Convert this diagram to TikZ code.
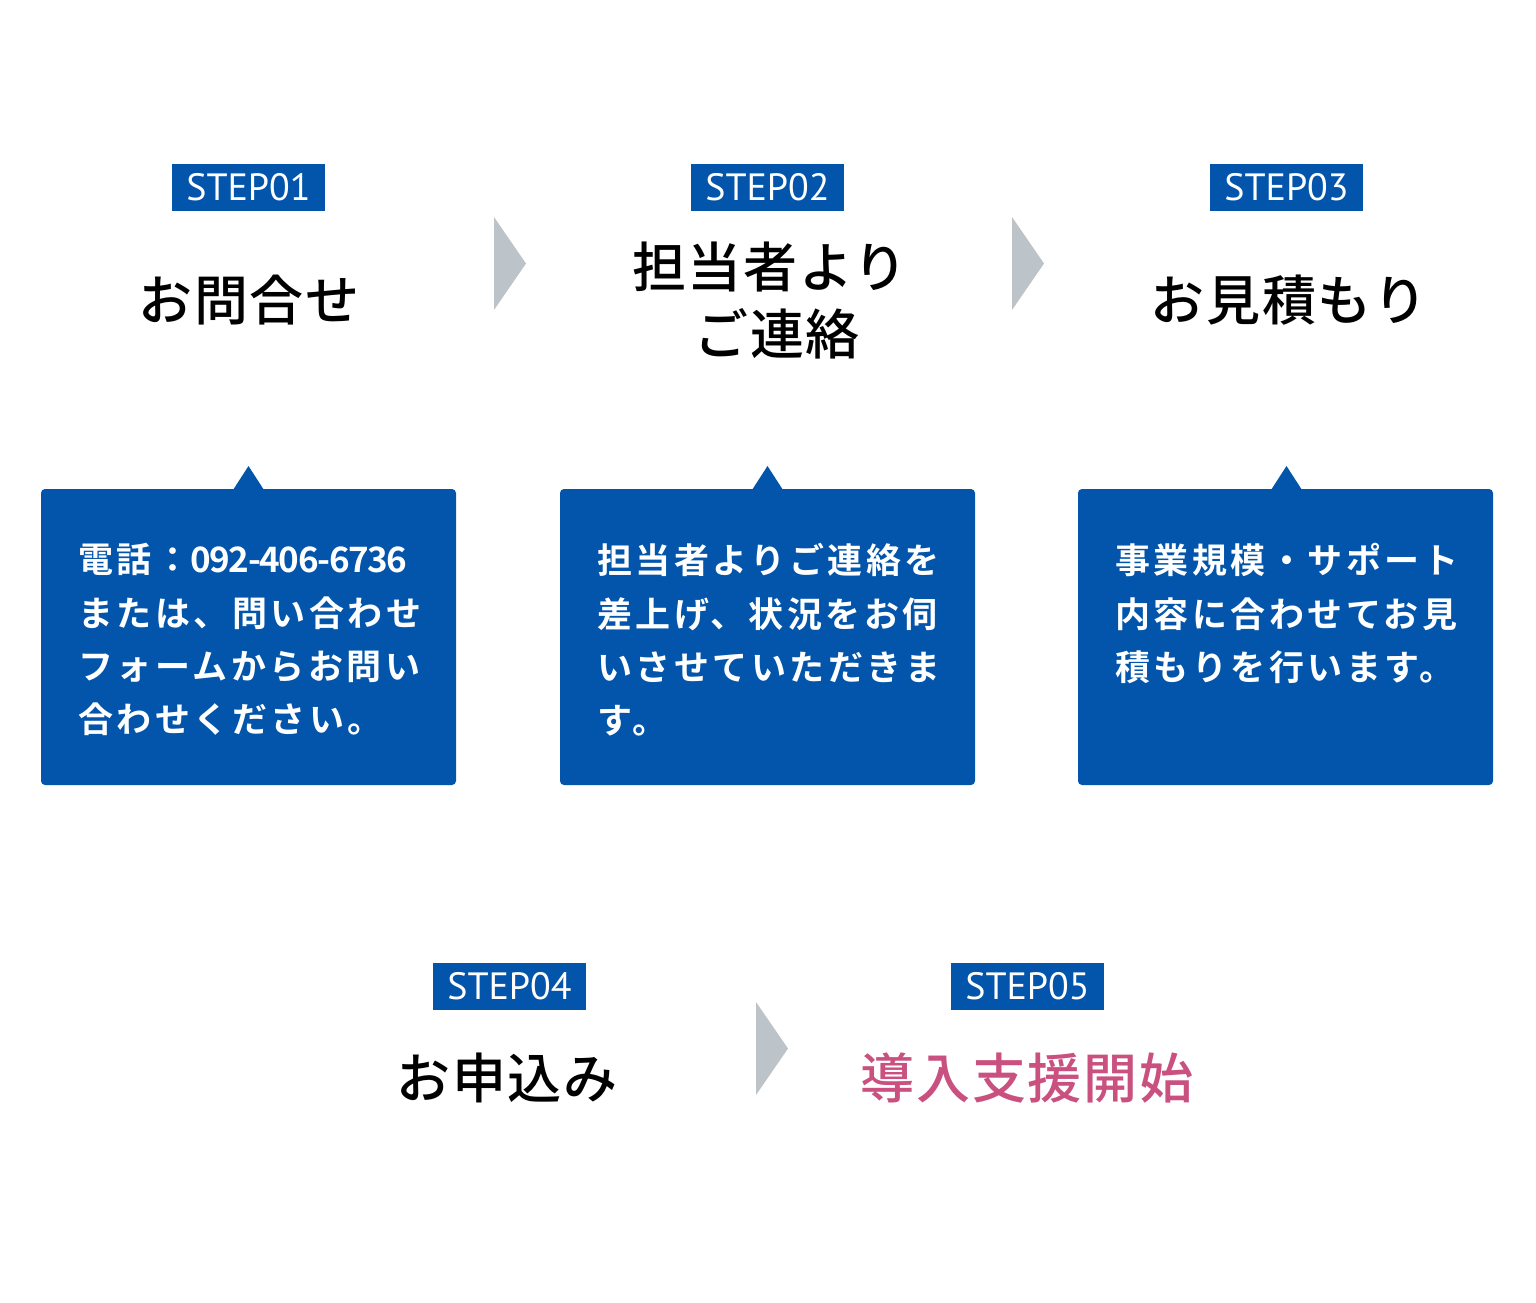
\documentclass[tikz,border=0pt]{standalone}
\usepackage{fontspec}
\newfontfamily\jpfont[LetterSpace=3]{Noto Sans CJK JP Medium}
\newfontfamily\jpbold[LetterSpace=10]{Noto Sans CJK JP Bold}
\newfontfamily\stepfont{PT Sans}
\newcommand\narrowdigits[1]{{\addfontfeature{LetterSpace=-4}#1}}
\definecolor{stepblue}{RGB}{2,85,171}
\definecolor{arrowgray}{RGB}{188,195,201}
\definecolor{accentpink}{RGB}{201,80,127}
\tikzset{
  steplabel/.style={fill=stepblue,text=white,minimum width=76.5pt,minimum height=23.5pt,inner sep=0pt,font={\stepfont\fontsize{19pt}{19pt}\selectfont}},
  titletext/.style={inner sep=0pt,align=center,font={\jpfont\fontsize{27pt}{33.5pt}\selectfont}},
  infobox/.style={fill=stepblue,rounded corners=2pt},
  infotext/.style={inner sep=0pt,anchor=north west,align=left,text=white,font={\jpbold\fontsize{17.5pt}{26.7pt}\selectfont}},
  chevron/.style={fill=arrowgray}
}
\begin{document}
\begin{tikzpicture}[x=0.5pt,y=-0.5pt]
\useasboundingbox (0,0) rectangle (1536,1302);
% step labels
\node[steplabel] (s1) at (248.5,187.5) {STEP01};
\node[steplabel] (s2) at (767.5,187.5) {STEP02};
\node[steplabel] (s3) at (1286.5,187.5) {STEP03};
\node[steplabel] (s4) at (509.5,986.5) {STEP04};
\node[steplabel] (s5) at (1027.5,986.5) {STEP05};
% titles
\node[titletext] (t1) at (249,300) {お問合せ};
\node[titletext] (t2) at (770,301) {担当者より\\\hspace*{7pt}ご連絡};
\node[titletext] (t3) at (1289,300) {お見積もり};
\node[titletext] (t4) at (507,1078) {お申込み};
\node[titletext,text=accentpink] (t5) at (1027,1078) {導入支援開始};
% chevrons
\fill[chevron] (494,217) -- (526,263.5) -- (494,310) -- cycle;
\fill[chevron] (1012,217) -- (1044,263.5) -- (1012,310) -- cycle;
\fill[chevron] (756,1002) -- (788,1048.5) -- (756,1095) -- cycle;
% boxes
\fill[infobox] (41,489) rectangle (456,785);
\fill[stepblue] (233,490) -- (248.5,466) -- (264,490) -- cycle;
\fill[infobox] (560,489) rectangle (975,785);
\fill[stepblue] (752,490) -- (767.5,466) -- (783,490) -- cycle;
\fill[infobox] (1078,489) rectangle (1493,785);
\fill[stepblue] (1271,490) -- (1286.5,466) -- (1302,490) -- cycle;
% box texts
\node[infotext] (b1) at (78,543) {電話：\narrowdigits{092-406-6736}\\または、問い合わせ\\フォームからお問い\\合わせください。};
\node[infotext] (b2) at (597,543) {担当者よりご連絡を\\差上げ、状況をお伺\\いさせていただきま\\す。};
\node[infotext] (b3) at (1115,543) {事業規模・サポート\\内容に合わせてお見\\積もりを行います。};
\end{tikzpicture}
\end{document}
